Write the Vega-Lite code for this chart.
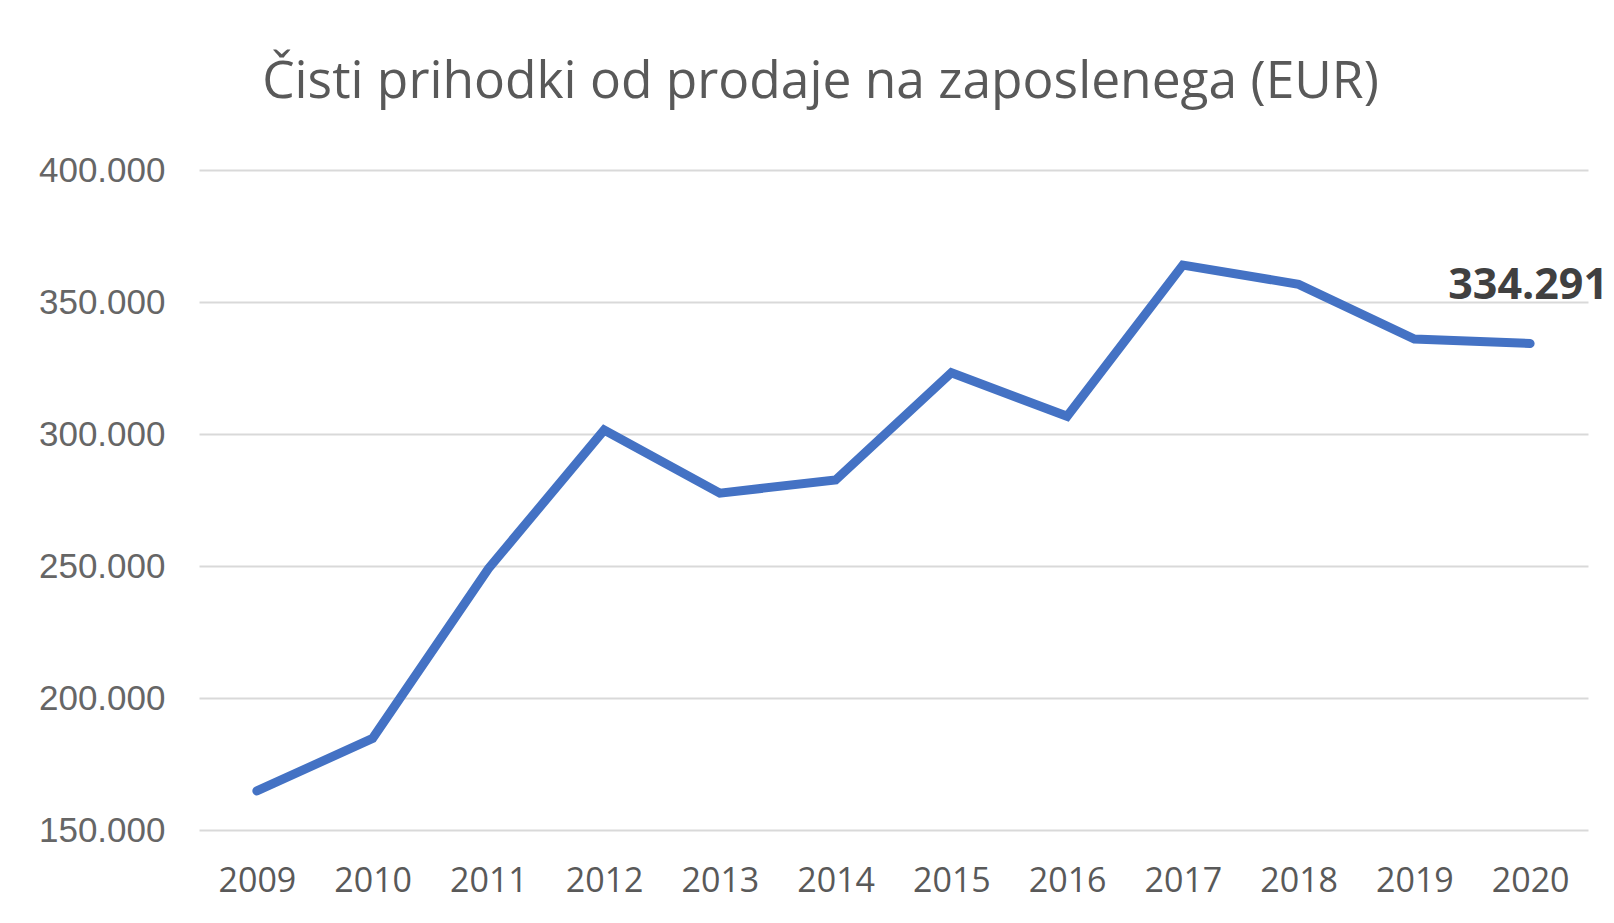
{
  "$schema": "https://vega.github.io/schema/vega-lite/v6.json",
  "width": 1389,
  "height": 660,
  "autosize": {"type": "none"},
  "padding": {"left": 199, "top": 170, "right": 26, "bottom": 93},
  "background": "white",
  "title": {
    "text": "Čisti prihodki od prodaje na zaposlenega (EUR)",
    "font": "Open Sans",
    "fontSize": 51.5,
    "fontWeight": "normal",
    "color": "#595959",
    "anchor": "middle",
    "dx": -73,
    "offset": 45
  },
  "data": {
    "values": [
      {"leto": "2009", "vrednost": 164800},
      {"leto": "2010", "vrednost": 184700},
      {"leto": "2011", "vrednost": 249000},
      {"leto": "2012", "vrednost": 301500},
      {"leto": "2013", "vrednost": 277600},
      {"leto": "2014", "vrednost": 282600},
      {"leto": "2015", "vrednost": 323200},
      {"leto": "2016", "vrednost": 306700},
      {"leto": "2017", "vrednost": 364000},
      {"leto": "2018", "vrednost": 356700},
      {"leto": "2019", "vrednost": 336000},
      {"leto": "2020", "vrednost": 334291, "oznaka": "334.291"}
    ]
  },
  "encoding": {
    "x": {
      "field": "leto",
      "type": "ordinal",
      "scale": {"type": "point", "padding": 0.5},
      "axis": {
        "title": null,
        "labelAngle": 0,
        "labelFont": "Open Sans",
        "labelFontSize": 34,
        "labelColor": "#595959",
        "labelPadding": 34,
        "ticks": false,
        "domain": false,
        "grid": false
      }
    },
    "y": {
      "field": "vrednost",
      "type": "quantitative",
      "scale": {"domain": [150000, 400000], "nice": false, "zero": false},
      "axis": {
        "title": null,
        "values": [150000, 200000, 250000, 300000, 350000, 400000],
        "labelExpr": "replace(format(datum.value, ',.0f'), ',', '.')",
        "labelFont": "Liberation Sans",
        "labelFontSize": 35,
        "labelColor": "#666666",
        "labelPadding": 34,
        "ticks": false,
        "domain": false,
        "grid": true,
        "gridColor": "#d9d9d9",
        "gridWidth": 2
      }
    }
  },
  "layer": [
    {
      "mark": {"type": "line", "color": "#4472C4", "strokeWidth": 9, "strokeCap": "round", "strokeJoin": "miter"}
    },
    {
      "transform": [{"filter": "datum.oznaka != null"}],
      "mark": {
        "type": "text",
        "font": "Open Sans",
        "fontSize": 43,
        "fontWeight": "bold",
        "color": "#404040",
        "dy": -57,
        "dx": -2
      },
      "encoding": {"text": {"field": "oznaka"}}
    }
  ],
  "config": {"view": {"stroke": null}}
}
